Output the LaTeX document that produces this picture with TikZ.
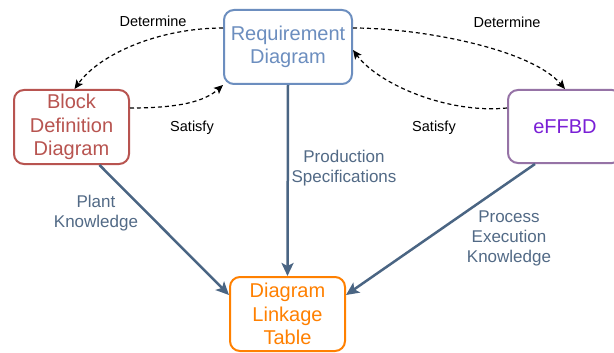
\documentclass[tikz,border=0pt]{standalone}
\usepackage{fontspec}
\setmainfont{Liberation Sans}
\usetikzlibrary{arrows.meta,calc}
\definecolor{reqc}{HTML}{6C8EBF}
\definecolor{bddc}{HTML}{B85450}
\definecolor{effc}{HTML}{9673A6}
\definecolor{efftext}{HTML}{7A1FD6}
\definecolor{dltc}{HTML}{FF8000}
\definecolor{slate}{HTML}{4A6583}
\definecolor{slatetext}{HTML}{526A86}
\tikzset{
  boxnode/.style={draw, rounded corners=10pt, line width=2pt, align=center,
    font=\fontsize{20}{23.5}\selectfont, inner sep=0pt},
  flowarrow/.style={draw=slate, line width=2.5pt, -{Stealth[length=13pt,width=12pt,inset=3pt]}},
  relarrow/.style={draw=black, line width=1.2pt, dash pattern=on 4pt off 3pt, -{Stealth[length=9pt,width=8pt,inset=2pt]}},
  rellabel/.style={font=\fontsize{14.5}{17}\selectfont, text=black, inner sep=0pt},
  flowlabel/.style={font=\fontsize{17}{20}\selectfont, text=slatetext, align=center, inner sep=0pt},
}
\begin{document}
\begin{tikzpicture}[x=1pt,y=-1pt]
\useasboundingbox (0,0) rectangle (614,353);
\fill[white] (0,0) rectangle (614,353);
\node[boxnode, draw=reqc, text=reqc, minimum width=128pt, minimum height=74pt] (req) at (288,47) {Requirement\\Diagram};
\node[boxnode, draw=bddc, text=bddc, minimum width=115pt, minimum height=74pt] (bdd) at (71.5,127) {Block\\Definition\\Diagram};
\node[boxnode, draw=effc, text=efftext, minimum width=114pt, minimum height=73pt] (eff) at (565,126.5) {eFFBD};
\node[boxnode, draw=dltc, text=dltc, minimum width=115pt, minimum height=74pt] (dlt) at (287.5,314) {Diagram\\Linkage\\Table};

\draw[flowarrow] (req.south) -- (dlt.north);
\draw[flowarrow] ([xshift=28pt]bdd.south) -- ([yshift=19pt]dlt.west);
\draw[flowarrow] ([xshift=-30pt]eff.south) -- ([yshift=19pt]dlt.east);

\draw[relarrow] ([yshift=19pt]req.west) .. controls +(-64,0) and +(25,-35) .. ([xshift=3pt]bdd.north);
\draw[relarrow] ([yshift=19pt]bdd.east) .. controls +(51,0) and +(-18,16) .. (req.south west);
\draw[relarrow] ([yshift=19pt]req.east) .. controls +(68,0) and +(-34,-40) .. (eff.north);
\draw[relarrow] ([yshift=18.5pt]eff.west) .. controls +(-58,6) and +(26,35) .. ([yshift=-3pt]req.east);

\node[rellabel] (det1) at (153,21) {Determine};
\node[rellabel] (sat1) at (192,128) {Satisfy};
\node[rellabel] (det2) at (507,22) {Determine};
\node[rellabel] (sat2) at (434,128) {Satisfy};

\node[flowlabel] (plant) at (96,213.5) {Plant\\Knowledge};
\node[flowlabel] (prod) at (344,168.5) {Production\\Specifications};
\node[flowlabel] (proc) at (509,238.5) {Process\\Execution\\Knowledge};
\end{tikzpicture}
\end{document}
